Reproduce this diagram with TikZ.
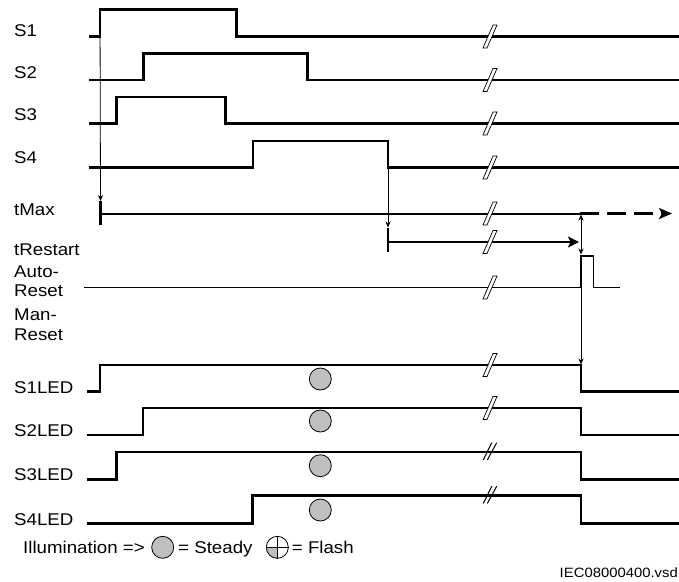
\documentclass[tikz,border=0pt]{standalone}
\usepackage{fontspec}
\setmainfont{Liberation Sans}[FakeStretch=1.1]
\usetikzlibrary{arrows.meta}
\tikzset{
  lbl/.style={anchor=base west, inner sep=0pt, font=\fontsize{17}{20}\selectfont},
  sig/.style={line width=2.2pt, line join=miter},
  thinsig/.style={line width=1.3pt, line join=miter},
  tarrow/.style={line width=0.8pt, -{Stealth[length=6pt,width=5pt]}},
  tick/.style={line width=2.4pt},
  lamp/.style={circle, draw, line width=0.8pt, fill=black!25, minimum size=22pt, inner sep=0pt},
  brk/.pic={\filldraw[fill=white,line width=0.7pt] (-7,11.5) -- (-3,11.5) -- (7,-11.5) -- (3,-11.5) -- cycle;},
  dbrk/.pic={\draw[line width=1pt] (-6.7,8) -- (1.7,-9.3) (-2.7,8) -- (6.7,-9.3);}
}
\begin{document}
\begin{tikzpicture}[x=1pt,y=-1pt]
\useasboundingbox (0,0) rectangle (679,581);
\fill[white] (0,0) rectangle (679,581);

% labels
\node[lbl] (lS1) at (14,36) {S1};
\node[lbl] (lS2) at (14,78) {S2};
\node[lbl] (lS3) at (14,120) {S3};
\node[lbl] (lS4) at (14,163) {S4};
\node[lbl] (ltmax) at (14,215) {tMax};
\node[lbl] (ltres) at (14,255) {tRestart};
\node[lbl] (lauto1) at (14,277) {Auto-};
\node[lbl] (lauto2) at (14,296) {Reset};
\node[lbl] (lman1) at (14,320) {Man-};
\node[lbl] (lman2) at (14,340) {Reset};
\node[lbl] (lL1) at (14,393) {S1LED};
\node[lbl] (lL2) at (14,436.5) {S2LED};
\node[lbl] (lL3) at (14,480.5) {S3LED};
\node[lbl] (lL4) at (14,525) {S4LED};

% input signals
\draw[sig] (89,36.5) -- (100,36.5) -- (100,9.5) coordinate (s1r) -- (236.5,9.5) -- (236.5,36.5) -- (679,36.5);
\draw[sig] (89,80) -- (143.5,80) -- (143.5,53.5) -- (307.5,53.5) -- (307.5,80) -- (679,80);
\draw[sig] (89,123.5) -- (116.5,123.5) -- (116.5,97) -- (225.5,97) -- (225.5,123.5) -- (679,123.5);
\draw[sig] (89,167.5) -- (253,167.5) -- (253,141) -- (388,141) -- (388,167.5) coordinate (s4f) -- (679,167.5);

% tMax
\coordinate (tmaxtop) at (100.5,201);
\draw[tick] (tmaxtop) -- (100.5,224.5);
\coordinate (tmaxs) at (100.5,213.5);
\coordinate (tmaxe) at (580,213.5);
\coordinate (tmaxd) at (672,213.5);
\draw[line width=2pt] (tmaxs) -- (tmaxe);
\draw[line width=3pt, dash pattern=on 19pt off 8pt, -{Stealth[length=13pt,width=11pt,inset=3pt]}] (tmaxe) -- (tmaxd);
\draw[tarrow] (s1r) -- (tmaxtop);

% tRestart
\coordinate (trtop) at (388,227.5);
\draw[tick] (trtop) -- (388,252);
\coordinate (trs) at (388,242);
\coordinate (tre) at (579,242);
\draw[line width=2pt, -{Stealth[length=11pt,width=11pt,inset=2.5pt]}] (trs) -- (tre);
\draw[tarrow] (s4f) -- (trtop);

% double arrow between tMax end and reset pulse
\coordinate (da1) at (581,214.5);
\coordinate (da2) at (581,254.5);
\draw[line width=0.8pt, {Stealth[length=6pt,width=5pt]}-{Stealth[length=6pt,width=5pt]}] (da1) -- (da2);

% Auto-Reset
\draw[thinsig] (84,287.5) -- (581,287.5) coordinate (arp) -- (581,256) -- (593.5,256) -- (593.5,287.5) -- (620,287.5);
\coordinate (l1top) at (581,364.5);
\draw[tarrow] (arp) -- (l1top);

% LEDs
\draw[sig] (87,391.5) -- (100,391.5) -- (100,365) -- (581,365) -- (581,391.5) -- (679,391.5);
\draw[sig] (87,435) -- (143,435) -- (143,408) -- (581,408) -- (581,435) -- (679,435);
\draw[sig] (87,479.5) -- (116.5,479.5) -- (116.5,452) -- (581,452) -- (581,479.5) -- (679,479.5);
\draw[sig] (87,523.5) -- (252.5,523.5) -- (252.5,495.5) -- (581,495.5) -- (581,523.5) -- (679,523.5);

% lamps
\node[lamp] (c1) at (320.3,379) {};
\node[lamp] (c2) at (320.3,421) {};
\node[lamp] (c3) at (320.3,465.7) {};
\node[lamp] (c4) at (320.3,510) {};

% break marks
\foreach \yy in {36.5,80,123.5,167.5,213.5,242,287.5,365,408}
  \pic at (490,\yy) {brk};
\pic at (490,452) {dbrk};
\pic at (490,495.5) {dbrk};

% legend
\node[lbl] (leg) at (23,553) {Illumination =>};
\node[lamp] (steady) at (162.7,547.3) {};
\node[lbl] (lsteady) at (178,553) {= Steady};
\node[circle, minimum size=22pt, inner sep=0pt] (flash) at (277.3,547.3) {};
\fill[black!25] (flash.center) -- (flash.west) arc[start angle=180,end angle=270,radius=11pt] -- cycle;
\draw[line width=0.8pt] (flash.center) circle[radius=11pt];
\draw[line width=0.8pt] (flash.west) -- (flash.east) (flash.north) -- (flash.south);
\node[lbl] (lflash) at (291.7,553) {= Flash};

\node[anchor=base east, inner sep=0pt, font=\fontsize{13.5}{16}\selectfont] (iec) at (678,577) {IEC08000400.vsd};
\end{tikzpicture}
\end{document}
